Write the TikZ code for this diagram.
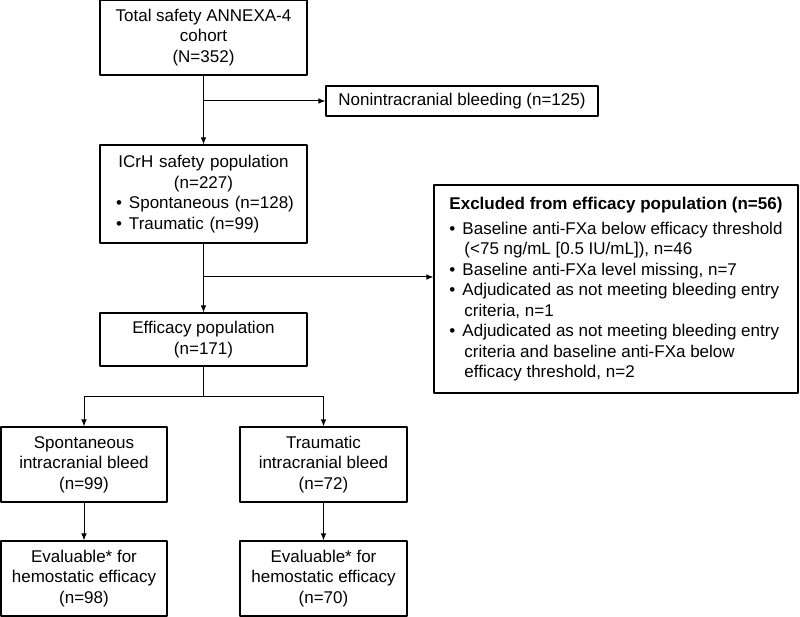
\documentclass[tikz,border=0pt]{standalone}
\usepackage{fontspec}
\setmainfont{Liberation Sans}
\usetikzlibrary{arrows.meta}
\newcommand{\bul}{\makebox[13pt][l]{\textbullet}}
\newcommand{\ind}{\hspace*{15pt}}
\begin{document}
\begin{tikzpicture}[x=1pt, y=-1pt, line join=round, line width=1pt, >={Latex[length=7pt,width=5.5pt]},
            font=\fontsize{17}{20.5}\selectfont,
            box/.style={draw, line width=1.1pt, align=center, inner sep=3pt}]
            \useasboundingbox (0,0) rectangle (800,617);
            \node[box, minimum width=207pt, minimum height=75pt] (total) at (203.5,37.5) {Total safety ANNEXA-4\\cohort\\(N=352)};
            \node[box, minimum width=272pt, minimum height=30pt] (nonicb) at (462,101) {Nonintracranial bleeding (n=125)};
            \node[box, text width=183pt, inner xsep=12pt, minimum height=98pt, align=left] (icrh) at (203.5,194)
            {{\centering ICrH safety population\\(n=227)\par}\noindent\hspace*{4pt}\bul Spontaneous (n=128)\\\hspace*{4pt}\bul Traumatic (n=99)};
            \node[box, minimum width=364pt, minimum height=208pt, align=left] (excl) at (616,289)
            {\textbf{Excluded from efficacy population (n=56)}\\[4.5pt]\bul Baseline anti-FXa below efficacy threshold\\\ind(<75 ng/mL [0.5 IU/mL]), n=46\\\bul Baseline anti-FXa level missing, n=7\\\bul Adjudicated as not meeting bleeding entry\\\ind criteria, n=1\\\bul Adjudicated as not meeting bleeding entry\\\ind criteria and baseline anti-FXa below\\\ind efficacy threshold, n=2};
            \node[box, minimum width=207pt, minimum height=53pt] (effic) at (203.5,339.5) {Efficacy population\\(n=171)};
            \node[box, minimum width=166pt, minimum height=75pt] (spont) at (84,464.5) {Spontaneous\\intracranial bleed\\(n=99)};
            \node[box, minimum width=167pt, minimum height=75pt] (traum) at (323.5,464.5) {Traumatic\\intracranial bleed\\(n=72)};
            \node[box, minimum width=166pt, minimum height=75pt] (evalspont) at (84,578.5) {Evaluable* for\\hemostatic efficacy\\(n=98)};
            \node[box, minimum width=167pt, minimum height=75pt] (evaltraum) at (323.5,578.5) {Evaluable* for\\hemostatic efficacy\\(n=70)};
            \coordinate (split) at (203.5,277);
            \coordinate (fork) at (203.5,396);
            \draw[->] (total) -- (icrh);
            \draw[->] (total.south |- nonicb) -- (nonicb);
            \draw[->] (icrh) -- (effic);
            \draw[->] (split) -- (split -| excl.west);
            \draw[->] (effic) -- (fork) -| (spont);
            \draw[->] (fork) -| (traum);
            \draw[->] (spont) -- (evalspont);
            \draw[->] (traum) -- (evaltraum);
        \end{tikzpicture}
\end{document}
